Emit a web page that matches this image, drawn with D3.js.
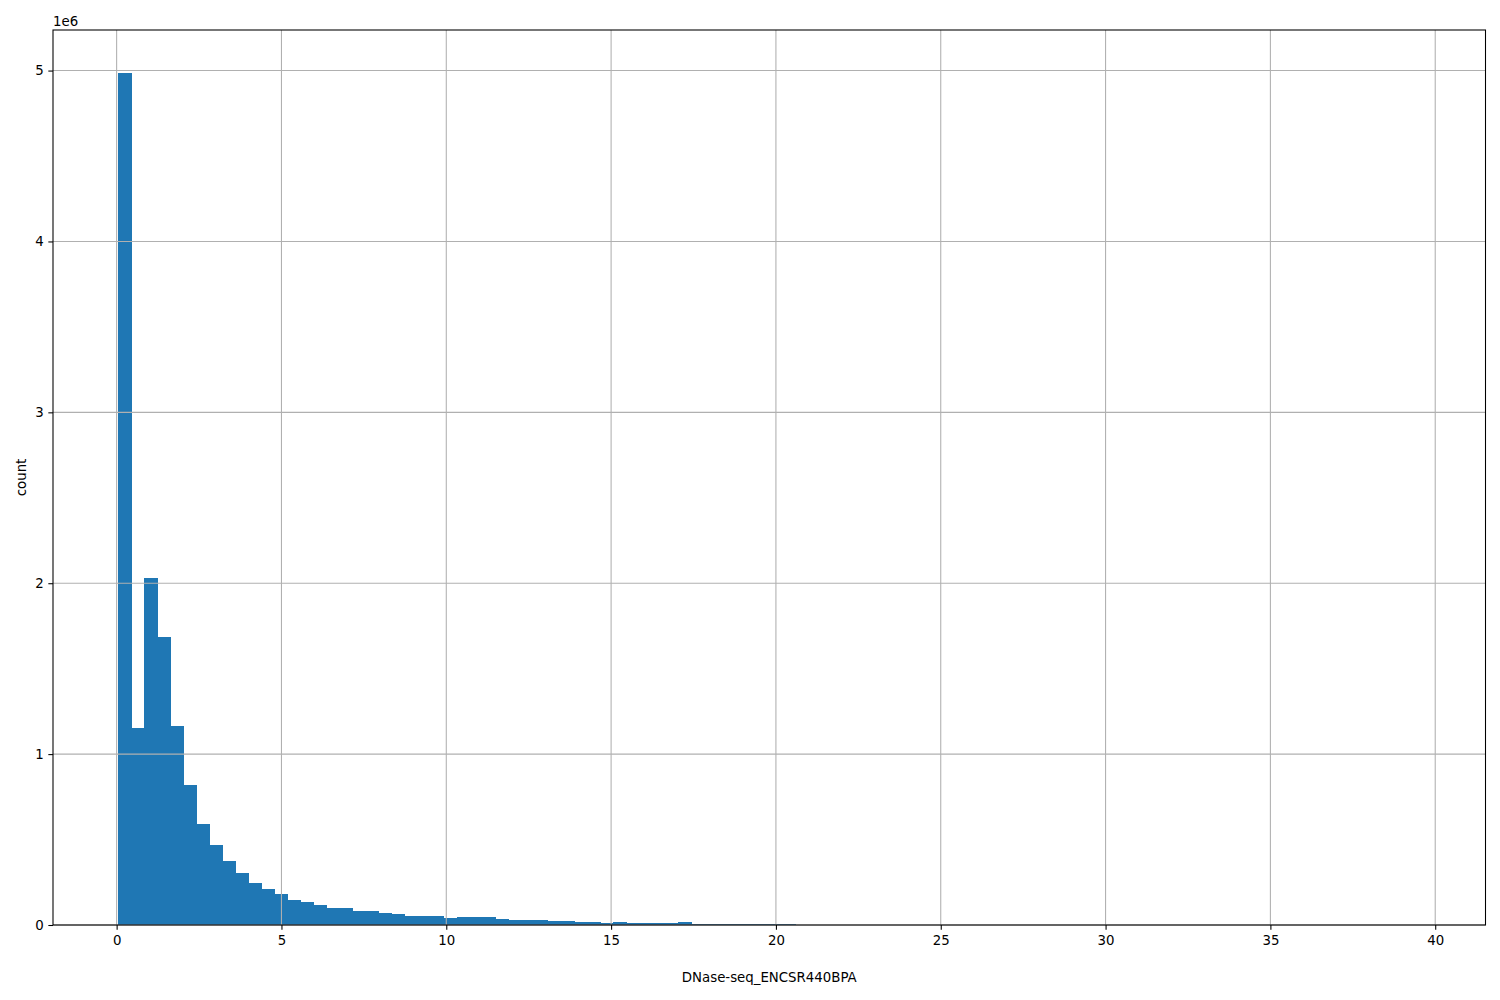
<!DOCTYPE html>
<html>
<head>
<meta charset="utf-8">
<script src="https://cdn.jsdelivr.net/npm/d3@7"></script>
<style>
  html, body { margin: 0; padding: 0; background: #fff; }
  svg text { font-family: "DejaVu Sans", sans-serif; }
</style>
</head>
<body>
<svg id="chart" width="1500" height="1000"></svg>
<script>
// Histogram settings
const binMin = 0.045;
const binMax = 39.55;
const binCount = 100;

// Counts per bin (in units of 1e6)
const counts = [
  4.988, 1.155, 2.032, 1.686, 1.167, 0.820, 0.591, 0.468, 0.375, 0.304,
  0.246, 0.211, 0.183, 0.146, 0.135, 0.117, 0.0995, 0.0995, 0.082, 0.082,
  0.070, 0.064, 0.053, 0.053, 0.053, 0.041, 0.047, 0.047, 0.047, 0.035,
  0.029, 0.029, 0.029, 0.023, 0.023, 0.018, 0.018, 0.012, 0.018, 0.012,
  0.012, 0.012, 0.012, 0.018, 0.006, 0.006, 0.006, 0.006, 0.006, 0.006,
  0.006, 0.006, 0.0015, 0.0012, 0.0010, 0.0009, 0.0008, 0.0007, 0.0006, 0.0005,
  0.0005, 0.0004, 0.0004, 0.0003, 0.0003, 0.0003, 0.0002, 0.0002, 0.0002, 0.0002,
  0.0001, 0.0001, 0.0001, 0.0001, 0.0001, 0.0001, 0.0001, 0.0001, 0.0001, 0.0001,
  0.0001, 0.0001, 0.0001, 0.0001, 0.0001, 0.0001, 0.0001, 0.0001, 0.0001, 0.0001,
  0.0001, 0.0001, 0.0001, 0.0001, 0.0001, 0.0001, 0.0001, 0.0001, 0.0001, 0.0001
];

const xTicks = [0, 5, 10, 15, 20, 25, 30, 35, 40];
const yTicks = [0, 1, 2, 3, 4, 5];
const xLabel = "DNase-seq_ENCSR440BPA";
const yLabel = "count";
const offsetLabel = "1e6";

(function () {
  const svg = d3.select("#chart");
  const pLeft = 53, pRight = 1485.5, pTop = 30, pBottom = 925;

  const span = binMax - binMin;
  const x = d3.scaleLinear()
    .domain([binMin - 0.05 * span, binMax + 0.05 * span])
    .range([pLeft, pRight]);
  const y = d3.scaleLinear()
    .domain([0, d3.max(counts) * 1.05])
    .range([pBottom, pTop]);

  const binW = span / binCount;
  const bins = counts.map((c, i) => ({x0: binMin + i * binW, x1: binMin + (i + 1) * binW, c}));

  // bars
  svg.append("g").attr("shape-rendering", "crispEdges")
    .selectAll("rect").data(bins).join("rect")
    .attr("x", d => x(d.x0))
    .attr("width", d => x(d.x1) - x(d.x0) + 0.6)
    .attr("y", d => y(d.c))
    .attr("height", d => y(0) - y(d.c))
    .attr("fill", "#1f77b4");

  // grid (above bars, as in matplotlib)
  const grid = svg.append("g").attr("stroke", "#b0b0b0").attr("stroke-width", 1.07);
  grid.selectAll("line.vx").data(xTicks).join("line").attr("class", "vx")
    .attr("x1", d => x(d)).attr("x2", d => x(d))
    .attr("y1", pTop).attr("y2", pBottom);
  grid.selectAll("line.hy").data(yTicks).join("line").attr("class", "hy")
    .attr("y1", d => y(d)).attr("y2", d => y(d))
    .attr("x1", pLeft).attr("x2", pRight);

  // axes
  const xAxis = d3.axisBottom(x).tickValues(xTicks).tickSize(4.67).tickPadding(5.5).tickFormat(d3.format("d"));
  const yAxis = d3.axisLeft(y).tickValues(yTicks).tickSize(4.67).tickPadding(4.7).tickFormat(d3.format("d"));

  const gx = svg.append("g").attr("transform", `translate(0,${pBottom})`).call(xAxis);
  const gy = svg.append("g").attr("transform", `translate(${pLeft},0)`).call(yAxis);
  [gx, gy].forEach(g => {
    g.select(".domain").remove();
    g.selectAll(".tick line").attr("stroke", "#000").attr("stroke-width", 1.07);
    g.selectAll(".tick text").attr("fill", "#000").style("font-size", "13.33px").style("font-family", "DejaVu Sans, sans-serif");
  });

  // frame
  svg.append("rect").attr("x", pLeft).attr("y", pTop)
    .attr("width", pRight - pLeft).attr("height", pBottom - pTop)
    .attr("fill", "none").attr("stroke", "#000").attr("stroke-width", 1.07);

  // labels
  svg.append("text").attr("x", (pLeft + pRight) / 2).attr("y", 982)
    .attr("text-anchor", "middle").style("font-size", "13.33px").text(xLabel);
  svg.append("text").attr("transform", `translate(26,${(pTop + pBottom) / 2}) rotate(-90)`)
    .attr("text-anchor", "middle").style("font-size", "13.33px").text(yLabel);
  svg.append("text").attr("x", pLeft).attr("y", 26)
    .style("font-size", "13.33px").text(offsetLabel);
})();
</script>
</body>
</html>
